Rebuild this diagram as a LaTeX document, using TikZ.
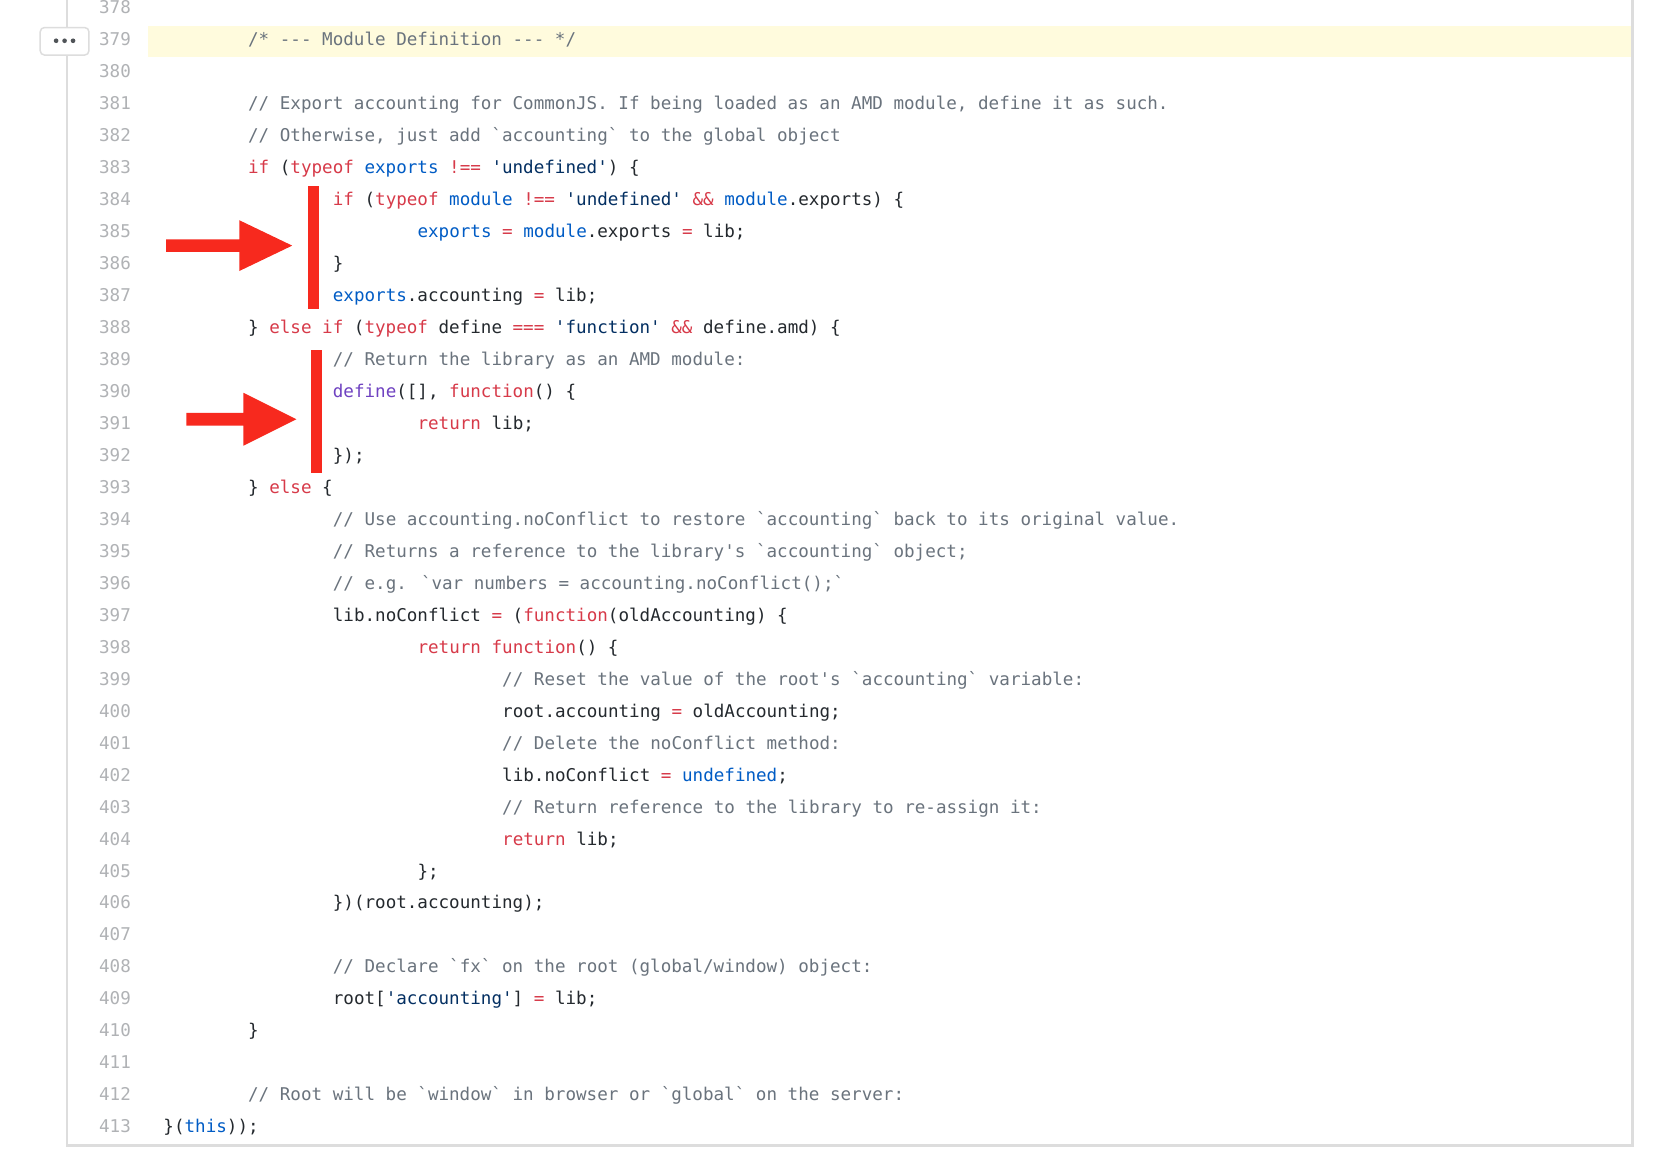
\documentclass[tikz,border=0pt]{standalone}
\usepackage{fontspec}
\newfontfamily\cf{DejaVu Sans Mono}
\definecolor{kw}{HTML}{D73A49}
\definecolor{bl}{HTML}{005CC5}
\definecolor{sq}{HTML}{032F62}
\definecolor{cm}{HTML}{6A737D}
\definecolor{pu}{HTML}{6F42C1}
\definecolor{num}{HTML}{B0B2B5}
\definecolor{hl}{HTML}{FFFBDD}
\definecolor{frame}{HTML}{DDDDDD}
\definecolor{arr}{HTML}{F7291E}
\definecolor{txt}{HTML}{24292E}
\newcommand\cK[1]{\textcolor{kw}{#1}}
\newcommand\cB[1]{\textcolor{bl}{#1}}
\newcommand\cS[1]{\textcolor{sq}{#1}}
\newcommand\cC[1]{\textcolor{cm}{#1}}
\newcommand\cP[1]{\textcolor{pu}{#1}}
\newcommand\cl[3]{\node[lnum] (n#1) at (124,{8+(#1-378)*30.2+5}) {#1};
  \node[code] (c#1) at (#2,{8+(#1-378)*30.2+5}) {#3};}
\newcommand\nl[1]{\node[lnum] (n#1) at (124,{8+(#1-378)*30.2+5}) {#1};}
\tikzset{
  code/.style={anchor=base west,inner sep=0,font=\cf\fontsize{8.3pt}{10pt}\selectfont,text=txt},
  lnum/.style={anchor=base east,inner sep=0,font=\cf\fontsize{8.3pt}{10pt}\selectfont,text=num},
  bar/.style={fill=arr,draw=none},
}
\begin{document}
\begin{tikzpicture}[x=0.5pt,y=-0.5pt]
\useasboundingbox (0,0) rectangle (1568,1108.9);
\fill[white] (0,0) rectangle (1568,1108.9);
\fill[hl] (140,25) rectangle (1542,54);
\draw[frame,line width=1pt] (63,0) -- (63,1082) -- (1542,1082) -- (1542,0);
\draw[frame,line width=0.7pt,fill=white,rounded corners=2pt] (38,26) rectangle (84,52);
\foreach \d in {53,61,69} \fill[txt!80] (\d,38.5) circle (2.2);
\nl{378}
\cl{379}{234}{\cC{/* --- Module Definition --- */}}
\nl{380}
\cl{381}{234}{\cC{// Export accounting for CommonJS. If being loaded as an AMD module, define it as such.}}
\cl{382}{234}{\cC{// Otherwise, just add `accounting` to the global object}}
\cl{383}{234}{\cK{if} (\cK{typeof} \cB{exports} \cK{!==} \cS{'undefined'}) \{}
\cl{384}{314}{\cK{if} (\cK{typeof} \cB{module} \cK{!==} \cS{'undefined'} \cK{\&\&} \cB{module}.exports) \{}
\cl{385}{394}{\cB{exports} \cK{=} \cB{module}.exports \cK{=} lib;}
\cl{386}{314}{\}}
\cl{387}{314}{\cB{exports}.accounting \cK{=} lib;}
\cl{388}{234}{\} \cK{else if} (\cK{typeof} define \cK{===} \cS{'function'} \cK{\&\&} define.amd) \{}
\cl{389}{314}{\cC{// Return the library as an AMD module:}}
\cl{390}{314}{\cP{define}([], \cK{function}() \{}
\cl{391}{394}{\cK{return} lib;}
\cl{392}{314}{\});}
\cl{393}{234}{\} \cK{else} \{}
\cl{394}{314}{\cC{// Use accounting.noConflict to restore `accounting` back to its original value.}}
\cl{395}{314}{\cC{// Returns a reference to the library's `accounting` object;}}
\cl{396}{314}{\cC{// e.g. `var numbers = accounting.noConflict();`}}
\cl{397}{314}{lib.noConflict \cK{=} (\cK{function}(oldAccounting) \{}
\cl{398}{394}{\cK{return} \cK{function}() \{}
\cl{399}{474}{\cC{// Reset the value of the root's `accounting` variable:}}
\cl{400}{474}{root.accounting \cK{=} oldAccounting;}
\cl{401}{474}{\cC{// Delete the noConflict method:}}
\cl{402}{474}{lib.noConflict \cK{=} \cB{undefined};}
\cl{403}{474}{\cC{// Return reference to the library to re-assign it:}}
\cl{404}{474}{\cK{return} lib;}
\cl{405}{394}{\};}
\cl{406}{314}{\})(root.accounting);}
\nl{407}
\cl{408}{314}{\cC{// Declare `fx` on the root (global/window) object:}}
\cl{409}{314}{root[\cS{'accounting'}] \cK{=} lib;}
\cl{410}{234}{\}}
\nl{411}
\cl{412}{234}{\cC{// Root will be `window` in browser or `global` on the server:}}
\cl{413}{154}{\}(\cB{this}));}
% red markers
\fill[bar] (291,176) rectangle (301,292);
\fill[bar] (294,331) rectangle (304,447);
\fill[arr] (157,226) -- (226,226) -- (226,208) -- (276,232) -- (226,256) -- (226,238) -- (157,238) -- cycle;
\fill[arr] (176,390) -- (230,390) -- (230,371) -- (280,396) -- (230,421) -- (230,402) -- (176,402) -- cycle;
\end{tikzpicture}
\end{document}
